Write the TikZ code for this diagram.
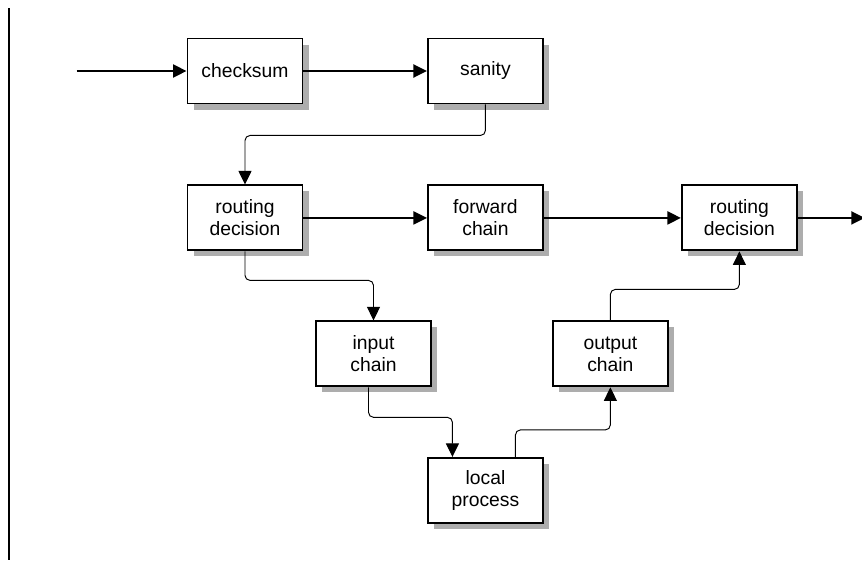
\documentclass[tikz,border=0pt]{standalone}
\usepackage{fontspec}
\setmainfont{Liberation Sans}
\usetikzlibrary{positioning,arrows.meta,shadows}

\begin{document}
\begin{tikzpicture}[->, >={Triangle[length=0.27cm,width=0.26cm]}, node distance=2.47cm,
		box/.style={draw, line width=1.1pt, fill=white, minimum width=2.3cm, minimum height=1.3cm,
			align=center, font=\fontsize{11}{12.5}\selectfont,
			drop shadow={shadow xshift=0.12cm, shadow yshift=-0.12cm, fill=black!32, opacity=1}},
		hop/.style={line width=0.55pt, rounded corners=0.1cm},
		main/.style={line width=1.1pt}]
		\useasboundingbox (0,0) rectangle (17.24,-11.2);
		\draw[-, line width=1.1pt] (0.18,-0.16) -- (0.18,-11.2);

		\node[box] (checksum) at (4.9,-1.42) {checksum};
		\node[box] (sanity) [right=of checksum] {sanity};
		\node[box] (rd1) [below=1.6cm of checksum] {routing\\decision};
		\node[box] (forward) [right=of rd1] {forward\\chain};
		\node[box] (rd2) [right=2.74cm of forward] {routing\\decision};
		\node[box] (input) [below=1.38cm of rd1, xshift=2.57cm] {input\\chain};
		\node[box] (output) [below=1.38cm of rd2, xshift=-2.58cm] {output\\chain};
		\node[box] (local) [below=4.11cm of forward] {local\\process};
		\coordinate[left=2.2cm of checksum] (src);
		\coordinate[right=1.34cm of rd2] (dst);

		\draw[main] (src) -- (checksum);
		\draw[main] (checksum) -- (sanity);
		\draw[main] (rd1) -- (forward);
		\draw[main] (forward) -- (rd2);
		\draw[main] (rd2) -- (dst);

		\draw[hop] (sanity.south) -- ++(0,-0.62) -| (rd1.north);
		\draw[hop] (rd1.south) -- ++(0,-0.58) -| (input.north);
		\draw[hop] ([xshift=-0.1cm]input.south) -- ++(0,-0.6) -| ([xshift=-0.66cm]local.north);
		\draw[hop] ([xshift=0.6cm]local.north) -- ++(0,0.54) -| (output.south);
		\draw[hop] (output.north) -- ++(0,0.62) -| (rd2.south);
	\end{tikzpicture}
\end{document}
